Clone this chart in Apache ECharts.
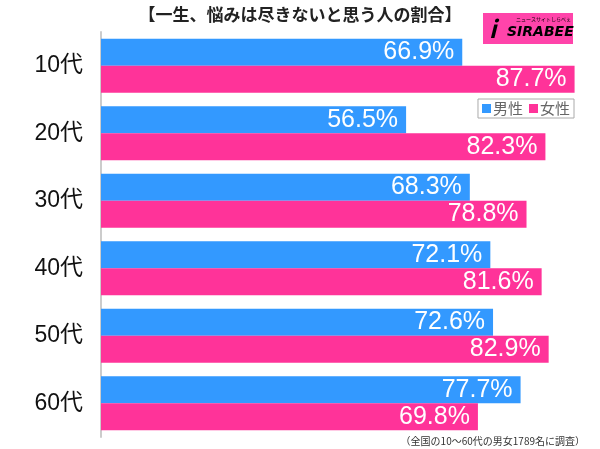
<!DOCTYPE html>
<html><head><meta charset="utf-8">
<script src="https://cdn.jsdelivr.net/npm/echarts@6/dist/echarts.min.js"></script>
<style>html,body{margin:0;padding:0;background:#fff}#c{width:600px;height:449px}</style>
</head><body><div id="c"></div>
<script>
const categories = ['10代','20代','30代','40代','50代','60代'];
const male = [66.9, 56.5, 68.3, 72.1, 72.6, 77.7];
const female = [87.7, 82.3, 78.8, 81.6, 82.9, 69.8];
const seriesNames = ['男性','女性'];
const titleText = '【一生、悩みは尽きないと思う人の割合】';
const footnote = '（全国の10～60代の男女1789名に調査）';

const chart = echarts.init(document.getElementById('c'));
const font = '"Noto Sans CJK JP","Noto Sans",sans-serif';
const numFont = '"Liberation Sans","Noto Sans CJK JP",sans-serif';
const lbl = {show:true, position:'insideRight', color:'#fff', fontSize:25, fontFamily:numFont, distance:8,
  formatter: p => p.value.toFixed(1) + '%'};
chart.setOption({
  animation:false,
  title:{text:titleText, left:'center', top:1, textStyle:{fontSize:17, fontWeight:'bold', color:'#222', fontFamily:font}},
  legend:{data:seriesNames, right:26, top:99, orient:'horizontal', itemWidth:9, itemHeight:9, itemGap:6,
    borderColor:'#aaa', borderWidth:1, padding:[2,4], icon:'rect',
    textStyle:{fontSize:15, color:'#666', fontFamily:font, padding:[0,0,0,-3]}},
  grid:{left:101, right:13, top:32, bottom:12, containLabel:false},
  xAxis:{type:'value', min:0, max:90, show:false},
  yAxis:{type:'category', data:categories, inverse:true,
    axisLine:{show:true, lineStyle:{color:'#ccc', width:2}}, axisTick:{show:false},
    axisLabel:{fontSize:23, color:'#111', fontFamily:numFont, margin:18}},
  series:[
    {name:seriesNames[0], type:'bar', data:male, itemStyle:{color:'#3399ff'}, barGap:'0%', barCategoryGap:'20%', label:lbl},
    {name:seriesNames[1], type:'bar', data:female, itemStyle:{color:'#ff3399'}, label:lbl}
  ],
  graphic:[
    {type:'rect', left:483, top:13, shape:{width:90, height:31}, style:{fill:'#ff44aa'}},
    {type:'text', left:516, top:17, style:{text:'ニュースサイトしらべぇ', fontSize:5, fill:'#000', fontFamily:font}},
    {type:'text', left:489, top:17, style:{text:'i', fontSize:24, fontWeight:'bold', fill:'#000', fontFamily:font, fontStyle:'italic'}},
    {type:'text', left:507, top:25, style:{text:'SIRABEE', fontSize:14, fontWeight:'bold', fontStyle:'italic', fill:'#000', fontFamily:'"DejaVu Sans",sans-serif'}},
    {type:'text', right:15, top:436, style:{text:footnote, fontSize:10, fill:'#333', fontFamily:font}}
  ]
});
</script></body></html>
